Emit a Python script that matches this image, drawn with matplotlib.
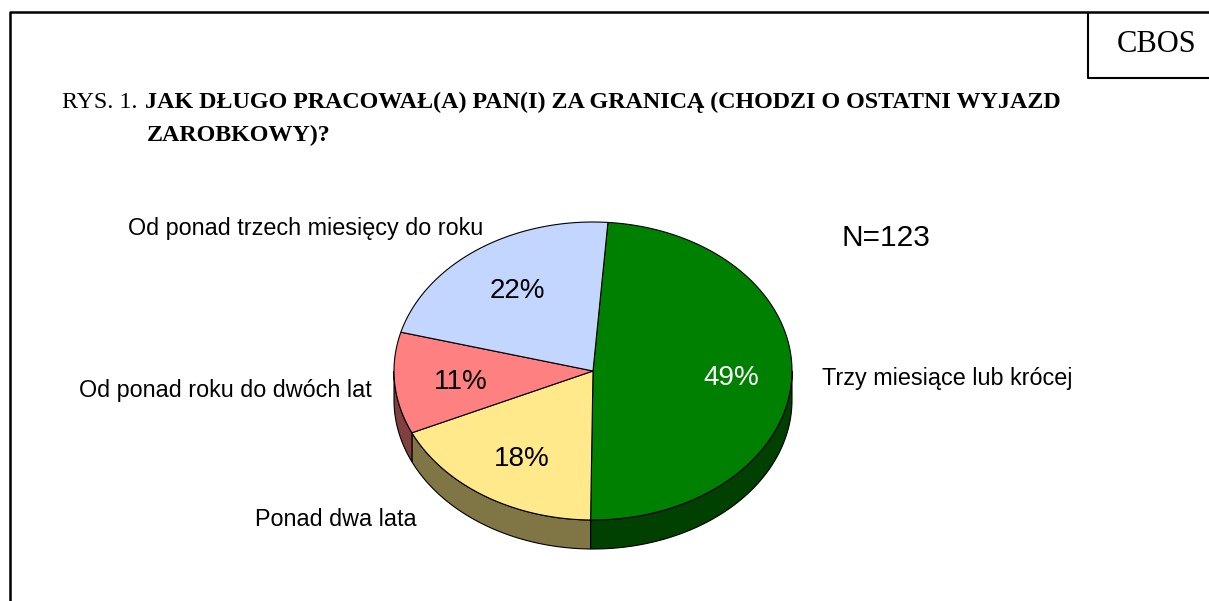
import numpy as np
import matplotlib
matplotlib.use("Agg")
import matplotlib.pyplot as plt
from matplotlib.patches import Polygon

# data (clockwise from the top)
categories = ["Trzy miesiące lub krócej", "Ponad dwa lata",
              "Od ponad roku do dwóch lat", "Od ponad trzech miesięcy do roku"]
shares = [49, 18, 11, 22]
pct_labels = ["49%", "18%", "11%", "22%"]
top_colors = ["#008000", "#FFE98A", "#FF8080", "#C3D6FF"]
side_colors = ["#004000", "#807544", "#804040", "#616B80"]
pct_colors = ["white", "black", "black", "black"]

title_prefix = "RYS. 1. "
title_line1 = "JAK DŁUGO PRACOWAŁ(A) PAN(I) ZA GRANICĄ (CHODZI O OSTATNI WYJAZD"
title_line2 = "ZAROBKOWY)?"
n_text = "N=123"

# pie layout in pixels
cx, cy = 593, 371
rx, ry = 199, 149
depth = 29
start = 85.7

W, H = 1209, 601
fig = plt.figure(figsize=(W / 100, H / 100), dpi=100)
ax = fig.add_axes([0, 0, 1, 1])
ax.set_xlim(0, W)
ax.set_ylim(H, 0)
ax.axis("off")


def ell(theta_deg):
    t = np.radians(theta_deg)
    return cx + rx * np.cos(t), cy - ry * np.sin(t)


# slice angles (clockwise)
angles = []
a = start
for s in shares:
    b = a - s * 3.6
    angles.append((a, b))
    a = b

# sides (front half only: angles between 180 and 360)
for (a0, a1), col in zip(angles, side_colors):
    lo, hi = min(a0, a1), max(a0, a1)
    for off in (0, -360, 360):
        l, h = max(lo + off, 180), min(hi + off, 360)
        if h <= l:
            continue
        th = np.linspace(l, h, 80)
        x, y = ell(th)
        pts = np.concatenate([np.column_stack([x, y]),
                              np.column_stack([x[::-1], y[::-1] + depth])])
        ax.add_patch(Polygon(pts, closed=True, facecolor=col,
                             edgecolor="black", linewidth=0.8, zorder=1))

# top surface
for (a0, a1), col in zip(angles, top_colors):
    th = np.linspace(a0, a1, 150)
    x, y = ell(th)
    pts = np.vstack([[cx, cy], np.column_stack([x, y])])
    ax.add_patch(Polygon(pts, closed=True, facecolor=col,
                         edgecolor="black", linewidth=0.8, zorder=2))

# percentage labels
for (a0, a1), lab, tc in zip(angles, pct_labels, pct_colors):
    mid = (a0 + a1) / 2
    t = np.radians(mid)
    r = 0.68
    ax.text(cx + r * rx * np.cos(t) + 3, cy - r * ry * np.sin(t) + 3, lab,
            fontsize=20, family="Liberation Sans", color=tc,
            ha="center", va="center", zorder=3)

# category labels
cat_pos = [(822, 379, "left"), (417, 519, "right"),
           (372, 391, "right"), (483, 228, "right")]
for name, (x, y, ha) in zip(categories, cat_pos):
    ax.text(x, y, name, fontsize=16.8, family="Liberation Sans",
            ha=ha, va="center", zorder=3)

ax.text(842, 238, n_text, fontsize=21.5, family="Liberation Sans",
        ha="left", va="center")

# title
ax.text(62, 108, title_prefix, fontsize=17.3, family="Liberation Serif",
        ha="left", va="baseline")
ax.text(145, 108, title_line1, fontsize=17.3, family="Liberation Serif",
        weight="bold", ha="left", va="baseline")
ax.text(147, 141, title_line2, fontsize=17.3, family="Liberation Serif",
        weight="bold", ha="left", va="baseline")

# frame and CBOS box
ax.plot([10, 10, W], [H, 12, 12], color="black", linewidth=1.8,
        solid_capstyle="butt")
ax.plot([1088, 1088, W], [12, 78, 78], color="black", linewidth=1.5,
        solid_capstyle="butt")
ax.text(1157, 44, "CBOS", fontsize=22, family="Liberation Serif",
        ha="center", va="center")

fig.savefig("out.png", dpi=100)
